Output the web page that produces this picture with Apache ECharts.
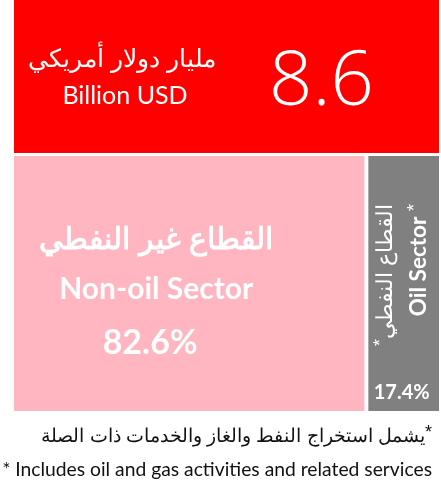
<!DOCTYPE html>
<html>
<head>
<meta charset="utf-8">
<script src="https://cdn.jsdelivr.net/npm/echarts@6/dist/echarts.min.js"></script>
<style>
  html, body { margin: 0; padding: 0; background: #fff; }
  #main { width: 441px; height: 490px; }
</style>
</head>
<body>
<div id="main"></div>
<script>
var totalValue = [8.6];
var totalUnitAr = 'مليار دولار أمريكي';
var totalUnitEn = 'Billion USD';
var sectorNamesAr = ['القطاع غير النفطي', 'القطاع النفطي'];
var sectorNamesEn = ['Non-oil Sector', 'Oil Sector'];
var sectorShares = [82.6, 17.4];
var sectorColors = ['#ffb6c1', '#808080'];
var noteAr = 'يشمل استخراج النفط والغاز والخدمات ذات الصلة';
var noteEn = 'Includes oil and gas activities and related services';

var fontEn = 'Lato';
var chart = echarts.init(document.getElementById('main'));

// lower block: non-oil / oil shares
var sectorData = sectorShares.map(function (v, i) {
    var item = {
        name: sectorNamesEn[i],
        value: v,
        itemStyle: { color: sectorColors[i], borderWidth: 0 }
    };
    if (i === 0) {
        item.label = {
            position: 'inside',
            offset: [-33, 0],
            padding: [60, 0, 0, 0],
            formatter: '{ar|' + sectorNamesAr[i] + '}\n{en|' + sectorNamesEn[i] + '}\n{pct|' + v + '%}',
            rich: {
                ar: { fontSize: 30, fontWeight: 'bold', color: '#fff', lineHeight: 50 },
                en: { fontSize: 30, fontWeight: 'bold', fontFamily: fontEn, color: '#fff', lineHeight: 46 },
                pct: { fontSize: 34, fontWeight: 'bold', fontFamily: fontEn, color: '#fff', lineHeight: 62, padding: [0, 12, 0, 0] }
            }
        };
    } else {
        item.label = {
            position: 'insideBottom',
            distance: 8,
            offset: [-2, 0],
            padding: 0,
            fontSize: 20,
            fontWeight: 'bold',
            fontFamily: fontEn,
            color: '#fff',
            formatter: v + '%'
        };
    }
    return item;
});

chart.setOption({
    animation: false,
    series: [
        {
            type: 'treemap',
            left: 14, top: 0, width: 425, height: 153,
            roam: false,
            nodeClick: false,
            breadcrumb: { show: false },
            levels: [{ itemStyle: { gapWidth: 0, borderWidth: 0 } }],
            data: [{
                name: totalUnitEn,
                value: totalValue[0],
                itemStyle: { color: '#ff0000', borderWidth: 0 },
                label: {
                    position: 'inside',
                    offset: [95, 7],
                    padding: 0,
                    fontSize: 76,
                    fontWeight: 300,
                    fontFamily: 'Open Sans',
                    color: '#fff',
                    formatter: String(totalValue[0])
                }
            }]
        },
        {
            type: 'treemap',
            left: 14, top: 156, width: 425, height: 255,
            roam: false,
            nodeClick: false,
            breadcrumb: { show: false },
            levels: [{ itemStyle: { gapWidth: 4, borderWidth: 0, borderColor: '#fff' } }],
            data: sectorData
        }
    ],
    graphic: [
        {
            type: 'text', x: 122, y: 60, z: 100,
            style: { text: totalUnitAr, fill: '#fff', fontSize: 25, align: 'center', verticalAlign: 'middle' }
        },
        {
            type: 'text', x: 125, y: 96, z: 100,
            style: { text: totalUnitEn, fill: '#fff', fontSize: 25, fontFamily: fontEn, align: 'center', verticalAlign: 'middle' }
        },
        {
            type: 'text', x: 386, y: 275, z: 100, rotation: Math.PI / 2,
            style: {
                text: '{s|*}{a|' + sectorNamesAr[1] + '}',
                align: 'center', verticalAlign: 'middle',
                rich: {
                    s: { fontSize: 18, fill: '#fff', lineHeight: 14, verticalAlign: 'top' },
                    a: { fontSize: 22, fill: '#fff', lineHeight: 28 }
                }
            }
        },
        {
            type: 'text', x: 419, y: 260, z: 100, rotation: Math.PI / 2,
            style: {
                text: '{t|' + sectorNamesEn[1] + ' }{s|*}',
                align: 'center', verticalAlign: 'middle',
                rich: {
                    t: { fontSize: 22.5, fontWeight: 'bold', fontFamily: fontEn, fill: '#fff', lineHeight: 28 },
                    s: { fontSize: 19, fill: '#fff', lineHeight: 14, verticalAlign: 'top' }
                }
            }
        },
        {
            type: 'text', x: 432, y: 437, z: 100,
            style: {
                text: '{a|' + noteAr + '}{s|*}',
                align: 'right', verticalAlign: 'middle',
                rich: {
                    a: { fontSize: 19, fill: '#111', lineHeight: 26 },
                    s: { fontSize: 18, fill: '#111', lineHeight: 14, verticalAlign: 'top' }
                }
            }
        },
        {
            type: 'text', x: 432, y: 470, z: 100,
            style: {
                text: '* ' + noteEn,
                align: 'right', verticalAlign: 'middle',
                fill: '#111', fontSize: 19.3, fontFamily: fontEn
            }
        }
    ]
});
</script>
</body>
</html>
